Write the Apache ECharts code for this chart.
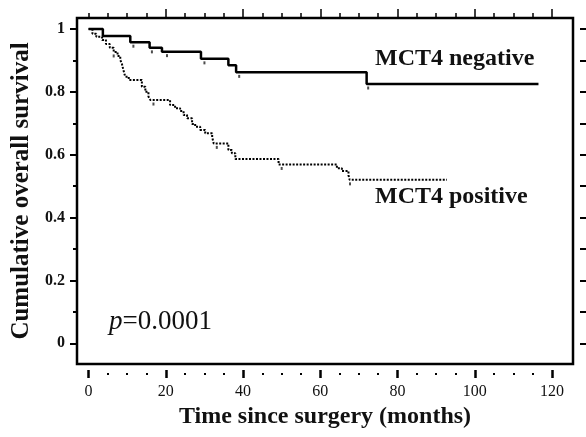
<!DOCTYPE html>
<html><head><meta charset="utf-8">
<script src="https://cdn.jsdelivr.net/npm/echarts@6/dist/echarts.min.js"></script>
<style>html,body{margin:0;padding:0;background:#fff}#c{width:586px;height:437px}</style>
</head><body><div id="c"></div>
<script>
// Kaplan-Meier steps (time in months, cumulative survival)
const negTimes = [0, 3.7, 10.8, 15.8, 19.0, 29.1, 36.2, 38.2, 72.0, 116.5];
const negSurv  = [1.0, 0.978, 0.958, 0.940, 0.928, 0.905, 0.885, 0.862, 0.825, 0.825];
const posTimes = [0, 1.0, 2.0, 3.5, 4.5, 5.5, 6.5, 7.5, 8.2, 8.6, 9.0, 9.5, 10.4, 13.8, 14.7, 15.5, 16.0,
                  21.1, 22.4, 23.7, 24.6, 25.5, 26.8, 27.6, 28.9, 30.2, 32.0, 32.4, 36.2, 37.1, 38.0,
                  49.2, 64.3, 65.6, 67.3, 67.6, 92.8];
const posSurv  = [1.0, 0.985, 0.975, 0.965, 0.952, 0.940, 0.927, 0.914, 0.901, 0.891, 0.870, 0.848, 0.838, 0.816, 0.800, 0.785, 0.774,
                  0.758, 0.748, 0.739, 0.726, 0.716, 0.698, 0.689, 0.679, 0.668, 0.656, 0.636, 0.615, 0.605, 0.586,
                  0.569, 0.557, 0.548, 0.535, 0.520, 0.520];
const negCensorT = [11.6, 16.4, 20.3, 30.0, 39.0, 72.4];
const negCensorS = [0.958, 0.940, 0.928, 0.905, 0.862, 0.825];
const posCensorT = [6.5, 16.8, 33.2, 50.0, 67.7];
const posCensorS = [0.927, 0.774, 0.636, 0.569, 0.520];
const xMajorTicks = [0, 20, 40, 60, 80, 100, 120];
const xMinorTicks = [5, 10, 15, 25, 30, 35, 45, 50, 55, 65, 70, 75, 85, 90, 95, 105, 110, 115];
const xTopTicks = [0, 5, 10, 15, 25, 30, 35, 45, 50, 55, 65, 70, 75, 85, 90, 95, 105, 110, 115];
const yMajorTicks = [0, 0.2, 0.4, 0.6, 0.8, 1];
const yMinorTicks = [0.1, 0.3, 0.5, 0.7, 0.9];
const yAllTicks = [0, 0.1, 0.2, 0.3, 0.4, 0.5, 0.6, 0.7, 0.8, 0.9, 1];

const zip = (a, b) => a.map((v, i) => [v, b[i]]);
const FONT = 'Liberation Serif';
const XMIN = -3.0, XMAX = 125.44, YMIN = -0.0659, YMAX = 1.035;

const chart = echarts.init(document.getElementById('c'), null, {renderer: 'canvas'});
const hiddenX = (extra) => Object.assign({
  type: 'value', min: XMIN, max: XMAX, splitLine: {show: false},
  axisLine: {show: false, onZero: false}, axisLabel: {show: false}, axisTick: {show: false}
}, extra);
const hiddenY = (extra) => Object.assign({
  type: 'value', min: YMIN, max: YMAX, splitLine: {show: false},
  axisLine: {show: false, onZero: false}, axisLabel: {show: false}, axisTick: {show: false}
}, extra);

chart.setOption({
  animation: false,
  backgroundColor: '#fff',
  grid: {left: 77, right: 13, top: 18, bottom: 73, show: true, borderColor: '#000', borderWidth: 2.5, backgroundColor: 'transparent'},
  xAxis: [
    hiddenX({position: 'bottom', offset: 6,
      name: 'Time since surgery (months)', nameLocation: 'middle', nameGap: 32,
      nameTextStyle: {fontFamily: FONT, fontWeight: 'bold', fontSize: 24, color: '#111'},
      axisTick: {show: true, customValues: xMajorTicks, length: 8, lineStyle: {color: '#000', width: 2.5}},
      axisLabel: {show: true, customValues: xMajorTicks, margin: 14, fontFamily: FONT, fontSize: 16, color: '#111'}}),
    hiddenX({position: 'bottom', offset: 9,
      axisTick: {show: true, customValues: xMinorTicks, length: 2, lineStyle: {color: '#000', width: 2}}}),
    hiddenX({position: 'top', offset: 0,
      axisTick: {show: true, customValues: xTopTicks, length: 5, lineStyle: {color: '#000', width: 1.5}}}),
    hiddenX({position: 'top', offset: 0,
      axisTick: {show: true, customValues: xMajorTicks.slice(1), length: 9, lineStyle: {color: '#000', width: 1.5}}})
  ],
  yAxis: [
    hiddenY({position: 'left', offset: 0,
      name: 'Cumulative overall survival', nameLocation: 'middle', nameGap: 43,
      nameTextStyle: {fontFamily: FONT, fontWeight: 'bold', fontSize: 25, color: '#111'},
      axisTick: {show: true, customValues: yMajorTicks, length: 7, lineStyle: {color: '#000', width: 2}},
      axisLabel: {show: true, customValues: yMajorTicks, margin: 12, fontFamily: FONT, fontSize: 16, fontWeight: 'bold', color: '#111',
        formatter: v => String(+v.toFixed(1))}}),
    hiddenY({position: 'left', offset: 0,
      axisTick: {show: true, customValues: yMinorTicks, length: 4, lineStyle: {color: '#000', width: 2}}}),
    hiddenY({position: 'right', offset: 7,
      axisTick: {show: true, customValues: yAllTicks, length: 6, inside: false, lineStyle: {color: '#000', width: 2}}})
  ],
  series: [
    {type: 'line', step: 'end', data: zip(negTimes, negSurv), symbol: 'none',
     lineStyle: {color: '#000', width: 2.5}},
    {type: 'line', step: 'end', data: zip(posTimes, posSurv), symbol: 'none',
     lineStyle: {color: '#000', width: 2, type: [2, 1.5]}},
    {type: 'scatter', data: zip(negCensorT, negCensorS), symbol: 'rect', symbolSize: [2, 3], symbolOffset: [0, 4],
     itemStyle: {color: '#222'}},
    {type: 'scatter', data: zip(posCensorT, posCensorS), symbol: 'rect', symbolSize: [2, 3], symbolOffset: [0, 4],
     itemStyle: {color: '#222'}}
  ],
  graphic: [
    {type: 'text', left: 375, top: 47, style: {text: 'MCT4 negative', fontFamily: FONT, fontWeight: 'bold', fontSize: 24, fill: '#111'}},
    {type: 'text', left: 375, top: 185, style: {text: 'MCT4 positive', fontFamily: FONT, fontWeight: 'bold', fontSize: 24, fill: '#111'}},
    {type: 'text', left: 109, top: 308, style: {
      text: '{i|p}{n|=0.0001}',
      rich: {i: {fontFamily: FONT, fontStyle: 'italic', fontSize: 27, fill: '#111'},
             n: {fontFamily: FONT, fontSize: 27, fill: '#111'}}}}
  ]
});
</script></body></html>
